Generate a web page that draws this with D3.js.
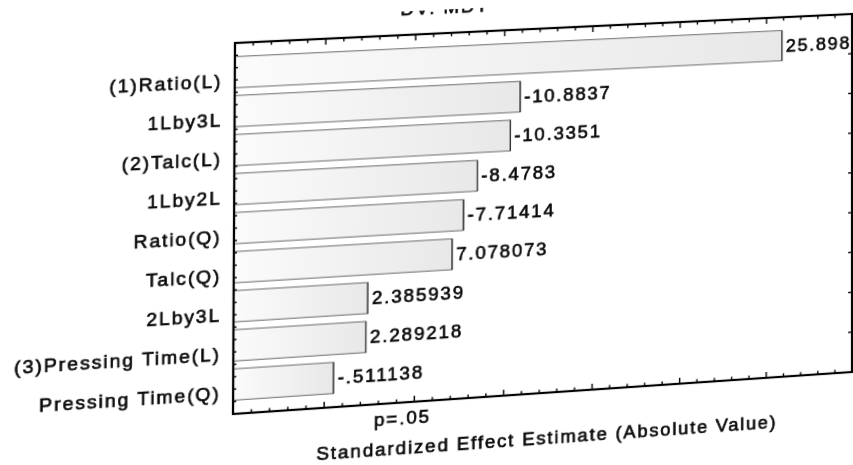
<!DOCTYPE html>
<html>
<head>
<meta charset="utf-8">
<script src="https://cdn.jsdelivr.net/npm/d3@7"></script>
<style>
  html, body { margin: 0; padding: 0; background: #fff; overflow: hidden; width: 853px; height: 465px; }
  #stage { position: absolute; left: 0; top: 0; width: 853px; height: 500px; transform-origin: 0 0; }
  #stage svg { overflow: visible; font-family: "Liberation Sans", Arial, sans-serif; }
</style>
</head>
<body>
<div id="stage"></div>
<script>
// Pareto chart of standardized effects
const effects = ["(1)Ratio(L)", "1Lby3L", "(2)Talc(L)", "1Lby2L", "Ratio(Q)", "Talc(Q)",
                 "2Lby3L", "(3)Pressing Time(L)", "Pressing Time(Q)"];
const estimates = [25.898, -10.8837, -10.3351, -8.4783, -7.71414, 7.078073, 2.385939, 2.289218, -0.511138];
const estimateLabels = ["25.898", "-10.8837", "-10.3351", "-8.4783", "-7.71414", "7.078073",
                        "2.385939", "2.289218", "-.511138"];
const xDomain = [-5, 30];
const pCritical = 2.306;
const titleText = "DV: MDT";
const axisTitle = "Standardized Effect Estimate (Absolute Value)";
const pLabel = "p=.05";

// plot frame in flat drawing coordinates
const L = 235, R = 852, T = 43, B = 414;
// where the frame corners land on the page (sheet photographed at a slant)
const srcCorners = [[L, T], [R, T], [R, B], [L, B]];
const dstCorners = [[235, 43], [852, 14], [852, 372], [233, 414]];

function solve(A, b) {
  const n = b.length;
  const M = A.map((row, i) => row.concat([b[i]]));
  for (let c = 0; c < n; c++) {
    let p = c;
    for (let r = c + 1; r < n; r++) if (Math.abs(M[r][c]) > Math.abs(M[p][c])) p = r;
    [M[c], M[p]] = [M[p], M[c]];
    for (let r = 0; r < n; r++) {
      if (r === c) continue;
      const f = M[r][c] / M[c][c];
      for (let k = c; k <= n; k++) M[r][k] -= f * M[c][k];
    }
  }
  return M.map((row, i) => row[n] / row[i]);
}
function homography(src, dst) {
  const A = [], b = [];
  for (let i = 0; i < 4; i++) {
    const [x, y] = src[i], [u, v] = dst[i];
    A.push([x, y, 1, 0, 0, 0, -x * u, -y * u]); b.push(u);
    A.push([0, 0, 0, x, y, 1, -x * v, -y * v]); b.push(v);
  }
  const [a, bb, c, d, e, f, g, h] = solve(A, b);
  return `matrix3d(${a},${d},0,${g},${bb},${e},0,${h},0,0,1,0,${c},${f},0,1)`;
}
document.getElementById("stage").style.transform = homography(srcCorners, dstCorners);

const svg = d3.select("#stage").append("svg").attr("width", 853).attr("height", 500);

const defs = svg.append("defs");
const grad = defs.append("linearGradient").attr("id", "barFill").attr("x1", "0").attr("x2", "1");
grad.append("stop").attr("offset", "0").attr("stop-color", "#fbfbfb");
grad.append("stop").attr("offset", "1").attr("stop-color", "#e8e8e8");

const x = d3.scaleLinear().domain(xDomain).range([L, R]);
const y = d3.scaleBand().domain(effects).range([T, B]).paddingInner(0.2).paddingOuter(0.35);

const data = effects.map((name, i) => ({ name, value: estimates[i], label: estimateLabels[i] }));

const textStyle = s => s.attr("fill", "#0a0a0a").attr("stroke", "#0a0a0a").attr("stroke-width", 0.65)
  .attr("font-size", 18.5).attr("letter-spacing", 1.8);

// title line (only its lower edge shows below the trimmed sheet edge)
svg.append("text").attr("x", 396).attr("y", 23).text(titleText).call(textStyle);
svg.append("rect").attr("x", -50).attr("y", -200).attr("width", 1000).attr("height", 219).attr("fill", "#fff");

// bars
const bars = svg.append("g");
bars.selectAll("rect").data(data).join("rect")
  .attr("x", x(xDomain[0]))
  .attr("y", d => y(d.name))
  .attr("width", d => x(Math.abs(d.value)) - x(xDomain[0]))
  .attr("height", y.bandwidth())
  .attr("fill", "url(#barFill)")
  .attr("stroke", "#777").attr("stroke-width", 1.1);
bars.selectAll("line").data(data).join("line")
  .attr("x1", d => x(Math.abs(d.value))).attr("x2", d => x(Math.abs(d.value)))
  .attr("y1", d => y(d.name)).attr("y2", d => y(d.name) + y.bandwidth())
  .attr("stroke", "#333").attr("stroke-width", 1.3);

// value labels
svg.append("g").selectAll("text").data(data).join("text")
  .attr("x", d => x(Math.abs(d.value)) + 4)
  .attr("y", d => y(d.name) + y.bandwidth() / 2)
  .attr("dy", "0.35em")
  .text(d => d.label)
  .call(textStyle);

// effect names
svg.append("g").selectAll("text").data(data).join("text")
  .attr("x", L - 12)
  .attr("y", d => y(d.name) + y.bandwidth() / 2 + 8)
  .attr("dy", "0.35em")
  .attr("text-anchor", "end")
  .text(d => d.name)
  .call(textStyle);

// frame
svg.append("rect").attr("x", L).attr("y", T).attr("width", R - L).attr("height", B - T)
  .attr("fill", "none").attr("stroke", "#000").attr("stroke-width", 2.2);

// value axis ticks on top and bottom edges
const ticks = d3.range(xDomain[0], xDomain[1] + 1);
const tickLen = v => (v % 5 === 0 ? 6 : 3.5);
const tg = svg.append("g").attr("stroke", "#000").attr("stroke-width", 1.4);
tg.selectAll(".tt").data(ticks).join("line").attr("class", "tt")
  .attr("x1", d => x(d)).attr("x2", d => x(d)).attr("y1", T).attr("y2", d => T + tickLen(d));
tg.selectAll(".tb").data(ticks).join("line").attr("class", "tb")
  .attr("x1", d => x(d)).attr("x2", d => x(d)).attr("y1", B).attr("y2", d => B - tickLen(d));

// side ticks
const leftTicks = d3.range(1, 30).map(k => T + k * (B - T) / 30);
const rightTicks = d3.range(1, 9).map(k => T + k * (B - T) / 9);
tg.selectAll(".tl").data(leftTicks).join("line").attr("class", "tl")
  .attr("x1", L).attr("x2", L + 3).attr("y1", d => d).attr("y2", d => d);
tg.selectAll(".tr").data(rightTicks).join("line").attr("class", "tr")
  .attr("x1", R).attr("x2", R - 4).attr("y1", d => d).attr("y2", d => d);

// significance label and axis title
svg.append("text").attr("x", x(pCritical) + 8).attr("y", 436).text(pLabel).call(textStyle);
svg.append("text").attr("x", (L + R) / 2 + 2).attr("y", 466).attr("text-anchor", "middle")
  .text(axisTitle).call(textStyle);
</script>
</body>
</html>
